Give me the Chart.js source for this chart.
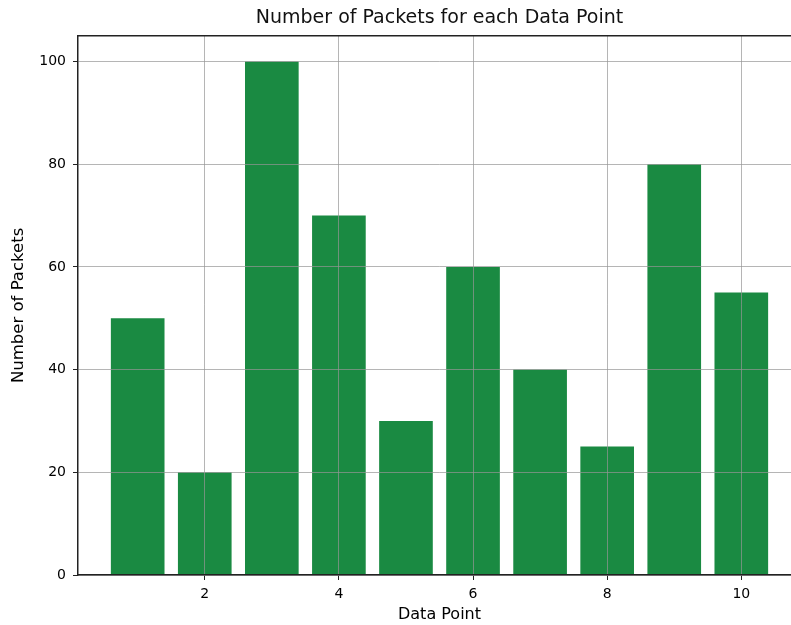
<!DOCTYPE html>
<html>
<head>
<meta charset="utf-8">
<script src="https://cdn.jsdelivr.net/npm/chart.js@4.4.1/dist/chart.umd.min.js"></script>
<style>
  html, body { margin: 0; padding: 0; background: #fff; overflow: hidden; }
  #wrap { width: 791px; height: 625px; overflow: hidden; }
  #wrap div { width: 812px; height: 625px; position: relative; }
</style>
</head>
<body>
<div id="wrap"><div><canvas id="chart"></canvas></div></div>
<script>
// data
const dataPoints = [1, 2, 3, 4, 5, 6, 7, 8, 9, 10];
const packets = [50, 20, 100, 70, 30, 60, 40, 25, 80, 55];
const xTicks = [2, 4, 6, 8, 10];
const yTicks = [0, 20, 40, 60, 80, 100];

const font = "'DejaVu Sans', sans-serif";
const gridColor = "rgba(150,150,150,0.7)";

// top spine like matplotlib
const topSpine = {
  id: "topSpine",
  afterDraw(chart) {
    const { ctx, chartArea } = chart;
    ctx.save();
    ctx.strokeStyle = "#222";
    ctx.lineWidth = 1.5;
    ctx.beginPath();
    ctx.moveTo(chartArea.left, chartArea.top);
    ctx.lineTo(chartArea.right, chartArea.top);
    ctx.stroke();
    ctx.restore();
  }
};

new Chart(document.getElementById("chart"), {
  type: "bar",
  data: {
    datasets: [{
      label: "Number of Packets",
      data: dataPoints.map((x, i) => ({ x: x, y: packets[i] })),
      backgroundColor: "#1a8a42",
      barPercentage: 0.8,
      categoryPercentage: 1.0
    }]
  },
  plugins: [topSpine],
  options: {
    responsive: true,
    maintainAspectRatio: false,
    animation: false,
    layout: { padding: { left: 0, right: 11, top: 0, bottom: 0 } },
    plugins: {
      legend: { display: false },
      tooltip: { enabled: false },
      title: {
        display: true,
        text: "Number of Packets for each Data Point",
        fullSize: false,
        color: "#111",
        font: { family: font, size: 19, weight: "normal" },
        padding: { top: 7, bottom: 6 }
      }
    },
    scales: {
      x: {
        type: "linear",
        offset: false,
        min: 0.11,
        max: 10.89,
        afterBuildTicks: (s) => { s.ticks = xTicks.map(v => ({ value: v })); },
        afterFit: (s) => { s.height = 50; },
        ticks: {
          color: "#000",
          font: { family: font, size: 14 },
          padding: 6,
          maxRotation: 0
        },
        grid: { offset: false, color: gridColor, tickColor: "#222", tickLength: 5, z: 1 },
        border: { color: "#222", width: 1.5, z: 2 },
        title: {
          display: true,
          text: "Data Point",
          color: "#000",
          font: { family: font, size: 16 },
          padding: { top: 0, bottom: 1 }
        }
      },
      y: {
        min: 0,
        max: 105,
        afterBuildTicks: (s) => { s.ticks = yTicks.map(v => ({ value: v })); },
        afterFit: (s) => { s.width = 78; },
        ticks: {
          color: "#000",
          font: { family: font, size: 14 },
          padding: 7
        },
        grid: { color: gridColor, tickColor: "#222", tickLength: 5, z: 1 },
        border: { color: "#222", width: 1.5, z: 2 },
        title: {
          display: true,
          text: "Number of Packets",
          color: "#000",
          font: { family: font, size: 16.5 },
          padding: { top: 9, bottom: 0 }
        }
      }
    }
  }
});
</script>
</body>
</html>
